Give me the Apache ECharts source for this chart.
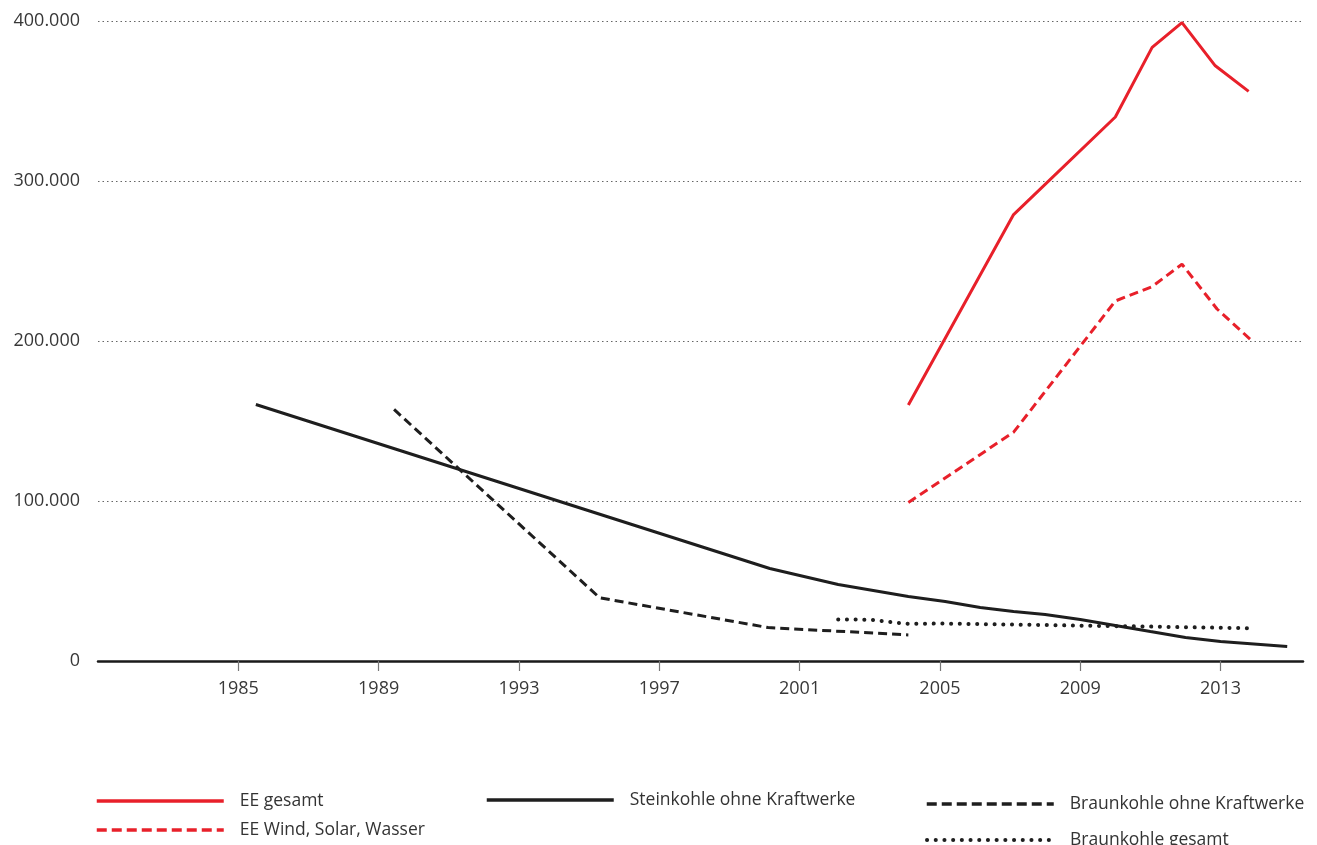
<!DOCTYPE html>
<html>
<head>
<meta charset="utf-8">
<script src="https://cdn.jsdelivr.net/npm/echarts@6/dist/echarts.min.js"></script>
<style>
html,body{margin:0;padding:0;background:#fff;}
#c{width:1317px;height:845px;}
</style>
</head>
<body>
<div id="c"></div>
<script>
// values in thousands
const xTickYears = [1985, 1989, 1993, 1997, 2001, 2005, 2009, 2013];
const yTicks = [0, 100, 200, 300, 400];

const eeGesamtYears = [2004.1, 2007.1, 2010.0, 2011.05, 2011.9, 2012.85, 2013.8];
const eeGesamtValues = [160, 279, 340, 383.5, 399, 372, 356];

const eeWindYears = [2004.1, 2007.1, 2010.0, 2011.05, 2011.9, 2012.9, 2013.9];
const eeWindValues = [99, 143, 225, 234, 248, 220, 200];

const steinYears = [1985.5, 2000.15, 2002.1, 2004.1, 2005.15, 2006.15, 2007.1, 2008.0, 2009.0, 2010.0, 2011.0, 2012.0, 2013.0, 2014.9];
const steinValues = [160.3, 57.8, 47.8, 40.3, 37.2, 33.4, 30.9, 29.1, 25.9, 22.2, 18.4, 14.7, 12.2, 9.1];

const braunOhneYears = [1989.44, 1995.3, 2000.1, 2004.1];
const braunOhneValues = [157.2, 39.5, 20.9, 16.3];

const braunGesamtYears = [2002.1, 2003.0, 2003.6, 2004.1, 2005.0, 2006.0, 2007.0, 2008.0, 2009.0, 2010.0, 2011.0, 2012.0, 2013.0, 2013.9];
const braunGesamtValues = [26, 25.8, 24.3, 23.2, 23.4, 23.1, 22.8, 22.5, 22.1, 21.8, 21.5, 21.1, 20.8, 20.4];

const seriesNames = ['EE gesamt', 'EE Wind, Solar, Wasser', 'Steinkohle ohne Kraftwerke', 'Braunkohle ohne Kraftwerke', 'Braunkohle gesamt'];

const RED = '#e8202a';
const BLACK = '#1e1e1e';
const FONT = '"Open Sans", "DejaVu Sans", sans-serif';

function pairs(xs, ys) { return xs.map((x, i) => [x, ys[i]]); }

const chart = echarts.init(document.getElementById('c'), null, {renderer: 'canvas'});

function legendFor(name, left, top, lineStyle) {
  return {
    orient: 'vertical',
    left: left,
    top: top,
    padding: 0,
    itemWidth: 127,
    itemHeight: 14,
    selectedMode: false,
    itemStyle: {opacity: 0},
    lineStyle: lineStyle,
    textStyle: {fontFamily: FONT, fontSize: 17.5, color: '#333', padding: [0, 0, 0, 11]},
    data: [name]
  };
}

chart.setOption({
  animation: false,
  backgroundColor: '#fff',
  grid: {left: 98, right: 14, top: 21, bottom: 184, containLabel: false},
  xAxis: {
    type: 'value',
    min: 1981,
    max: 2015.35,
    splitLine: {show: false},
    axisLine: {show: true, onZero: false, lineStyle: {color: '#1a1a1a', width: 2.5}},
    axisTick: {show: true, customValues: xTickYears, length: 10, lineStyle: {color: '#777', width: 1.2}},
    axisLabel: {
      customValues: xTickYears,
      formatter: v => String(v),
      fontFamily: FONT, fontSize: 18, color: '#383838', margin: 19
    }
  },
  yAxis: {
    type: 'value',
    min: 0,
    max: 400,
    interval: 100,
    axisLine: {show: false},
    axisTick: {show: false},
    splitLine: {show: true, lineStyle: {color: '#666', width: 1.2, type: [1.5, 3]}},
    axisLabel: {
      formatter: v => v === 0 ? '0' : v + '.000',
      fontFamily: FONT, fontSize: 18, color: '#383838', margin: 18
    }
  },
  legend: [
    legendFor(seriesNames[0], 95, 792, {color: RED, width: 3.5, type: 'solid'}),
    legendFor(seriesNames[1], 95, 821, {color: RED, width: 3.5, type: [10, 5]}),
    legendFor(seriesNames[2], 485, 791, {color: BLACK, width: 3.5, type: 'solid'}),
    legendFor(seriesNames[3], 925, 795, {color: BLACK, width: 3.5, type: [10, 5]}),
    legendFor(seriesNames[4], 925, 831, {color: BLACK, width: 4, type: [0.1, 8.6], cap: 'round'})
  ],
  series: [
    {
      name: seriesNames[0], type: 'line', symbol: 'none',
      data: pairs(eeGesamtYears, eeGesamtValues),
      lineStyle: {color: RED, width: 3}, itemStyle: {color: RED}
    },
    {
      name: seriesNames[1], type: 'line', symbol: 'none',
      data: pairs(eeWindYears, eeWindValues),
      lineStyle: {color: RED, width: 3, type: [9, 5]}, itemStyle: {color: RED}
    },
    {
      name: seriesNames[2], type: 'line', symbol: 'none',
      data: pairs(steinYears, steinValues),
      lineStyle: {color: BLACK, width: 3}, itemStyle: {color: BLACK}
    },
    {
      name: seriesNames[3], type: 'line', symbol: 'none',
      data: pairs(braunOhneYears, braunOhneValues),
      lineStyle: {color: BLACK, width: 3, type: [9, 5]}, itemStyle: {color: BLACK}
    },
    {
      name: seriesNames[4], type: 'line', symbol: 'none',
      data: pairs(braunGesamtYears, braunGesamtValues),
      lineStyle: {color: BLACK, width: 4, type: [0.1, 8.6], cap: 'round'}, itemStyle: {color: BLACK}
    }
  ]
});
</script>
</body>
</html>
